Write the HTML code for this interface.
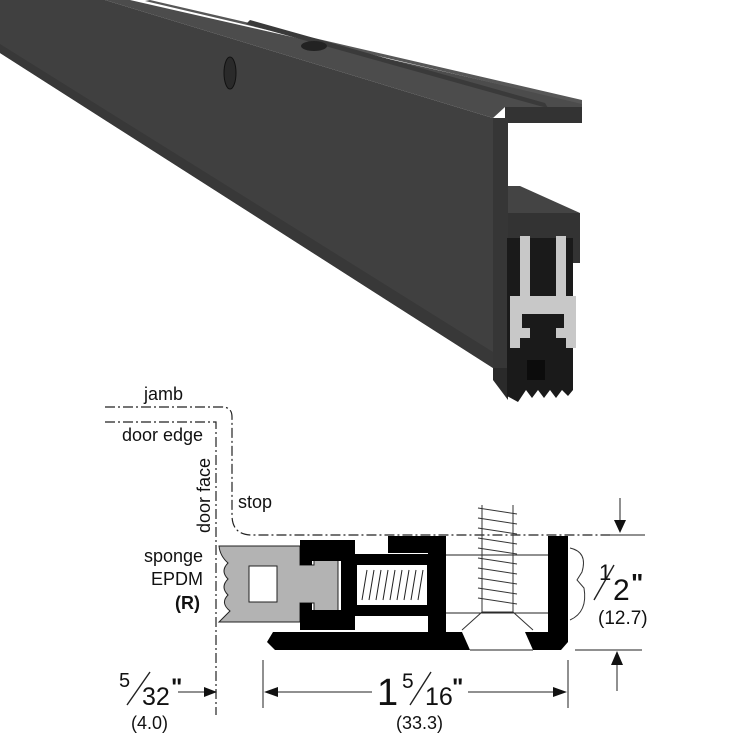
<!DOCTYPE html>
<html><head><style>body{margin:0;background:#fff}svg{display:block}text{font-family:"Liberation Sans",Arial,sans-serif;fill:#111}</style></head><body>
<svg width="750" height="750" viewBox="0 0 750 750" xmlns="http://www.w3.org/2000/svg">
<!-- 3D render -->
<polygon points="0,0 105,0 493,118 493,368 0,53" fill="#404040"/>
<polygon points="0,44 493,352 493,368 0,53" fill="#383838"/>
<polygon points="105,0 130,0 582,103 582,107 505,107 493,118" fill="#4c4c4c"/>
<polygon points="150,0 582,100 582,104 145,1" fill="#575757"/>
<polygon points="250,20 545,103 548,108 540,106 246,24" fill="#3a3a3a"/>
<rect x="505" y="107" width="77" height="16" fill="#333"/>
<rect x="493" y="118" width="15" height="252" fill="#363636"/>
<polygon points="493,368 508,368 508,400 493,380" fill="#2a2a2a"/>
<polygon points="508,186 520,186 580,213 508,213" fill="#444"/>
<rect x="508" y="213" width="72" height="25" fill="#333"/>
<rect x="560" y="238" width="20" height="25" fill="#333"/>
<polygon points="507,238 573,238 573,390 568,396 562,390 556,398 550,390 544,398 538,390 532,398 526,390 518,402 507,396" fill="#1a1a1a"/>
<path d="M520,236 h10 v60 h26 v-60 h10 v60 h10 v52 h-10 v-10 h-10 v-10 h8 v-14 h-42 v14 h8 v10 h-10 v10 h-10 v-52 h10 z" fill="#c8c8c8"/>
<rect x="527" y="360" width="18" height="20" fill="#0c0c0c"/>
<ellipse cx="230" cy="73" rx="6" ry="16" fill="#2a2a2a" stroke="#111" stroke-width="1"/>
<ellipse cx="314" cy="46" rx="13" ry="5" fill="#222"/>
<!-- diagram lines -->
<g fill="none" stroke="#222" stroke-width="1.2" stroke-dasharray="10,3,2,3">
<path d="M105,407 H222 Q232,407 232,417 V515 Q232,535 252,535 H610"/>
<path d="M105,422 H216 V715"/>
</g>
<text x="144" y="400" font-size="18">jamb</text>
<text x="122" y="441" font-size="18">door edge</text>
<text x="238" y="508" font-size="18">stop</text>
<text font-size="18" transform="translate(210,533) rotate(-90)">door face</text>
<text x="203" y="562" font-size="18" text-anchor="end">sponge</text>
<text x="203" y="585" font-size="18" text-anchor="end">EPDM</text>
<text x="200" y="609" font-size="18" font-weight="bold" text-anchor="end">(R)</text>
<!-- sponge -->
<path d="M219,546 L300,546 V565 H314 V557 H338 V613 H314 V603 H300 V622 L219,622 L230,611 Q220,603 228,595 Q220,587 228,579 Q220,571 228,563 Q220,556 219,546 Z" fill="#b3b3b3" stroke="#222" stroke-width="1"/>
<rect x="249" y="566" width="28" height="36" fill="#fff" stroke="#222" stroke-width="1"/>
<!-- holder -->
<path d="M300,540 H355 V630 H300 V603 H312 V610 H341 V561 H312 V565 H300 Z" fill="#000"/>
<rect x="355" y="554" width="73" height="62" fill="#000"/>
<rect x="357" y="565" width="70" height="40" fill="#fff"/>
<g stroke="#222" stroke-width="1">
<path d="M362,600 L367,570 M369,600 L374,570 M376,600 L381,570 M383,600 L388,570 M390,600 L395,570 M397,600 L402,570 M404,600 L409,570 M411,600 L416,570 M418,600 L423,570"/>
</g>
<rect x="388" y="536" width="58" height="17" fill="#000"/>
<rect x="428" y="536" width="18" height="100" fill="#000"/>
<path d="M273,632 H462 L470,650 H275 L267,642 Z" fill="#000"/>
<path d="M525,632 H568 V642 L561,650 H533 Z" fill="#000"/>
<rect x="548" y="536" width="20" height="100" fill="#000"/>
<path d="M446,555 H548 M446,613 H548 M470,650 H533" stroke="#222" stroke-width="1"/>
<!-- screw -->
<g fill="none" stroke="#333" stroke-width="1">
<path d="M482,505 V612 L462,630 M513,505 V612 L533,630 M482,612 H513"/>
<path d="M478,508 L517,514 M478,518 L517,524 M478,528 L517,534 M478,538 L517,544 M478,548 L517,554 M478,558 L517,564 M478,568 L517,574 M478,578 L517,584 M478,588 L517,594 M478,598 L517,604"/>
<path d="M570,548 Q588,552 582,572 L577,580 L584,588 Q588,612 570,620"/>
</g>
<!-- dimensions -->
<g stroke="#222" stroke-width="1" fill="none">
<path d="M610,535 H645 M575,650 H642 M620,498 V528 M617,691 V660 M263,660 V708 M568,660 V708 M275,692 H372 M468,692 H558 M178,692 H207"/>
<path d="M594,600 L614,565" stroke-width="1.4"/>
<path d="M127,705 L150,672 M410,705 L431,672" stroke-width="1.4"/>
</g>
<g fill="#111">
<polygon points="614,520 626,520 620,533"/>
<polygon points="611,665 623,665 617,651"/>
<polygon points="264,692 278,687 278,697"/>
<polygon points="567,692 553,687 553,697"/>
<polygon points="217,692 204,687 204,697"/>
</g>
<text x="599" y="580" font-size="22">1</text>
<text x="613" y="600" font-size="30">2</text>
<text x="631" y="592" font-size="26" font-weight="bold">"</text>
<text x="598" y="624" font-size="19">(12.7)</text>
<text x="119" y="687" font-size="20">5</text>
<text x="142" y="705" font-size="25">32</text>
<text x="171" y="695" font-size="24" font-weight="bold">"</text>
<text x="131" y="729" font-size="18">(4.0)</text>
<text x="377" y="705" font-size="38">1</text>
<text x="402" y="688" font-size="21">5</text>
<text x="425" y="705" font-size="25">16</text>
<text x="452" y="695" font-size="24" font-weight="bold">"</text>
<text x="396" y="729" font-size="18">(33.3)</text>
</svg>
</body></html>
